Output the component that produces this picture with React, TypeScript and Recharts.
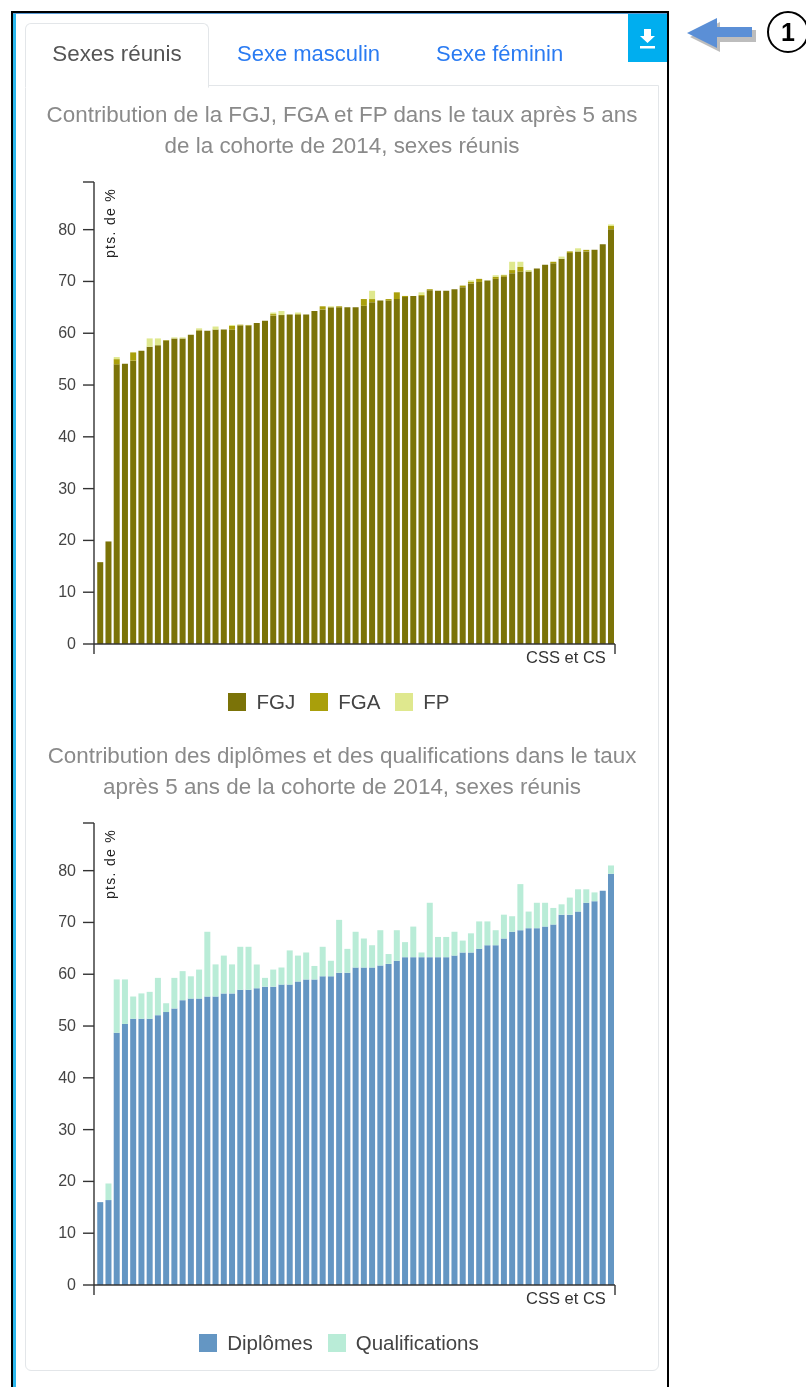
import React from 'react';
import { BarChart, Bar, XAxis, YAxis, Legend } from 'recharts';

const fgj = [15.8,19.8,54.0,54.1,54.7,56.6,57.4,57.7,58.6,59.0,59.0,59.7,60.5,60.5,60.7,60.7,60.7,61.5,61.5,62.0,62.4,63.4,63.5,63.6,63.6,63.6,64.3,64.6,65.0,65.0,65.0,65.0,65.3,66.0,66.3,66.3,66.6,67.0,67.2,67.2,68.3,68.2,68.2,68.5,68.9,69.6,69.9,70.2,70.5,70.9,71.6,71.9,71.9,72.5,73.2,73.5,74.4,75.5,75.8,75.8,76.1,77.2,80.1];
const fga = [0,0,1.0,0,1.6,0,0,0,0.1,0,0,0,0.2,0,0,0,0.7,0.15,0.1,0,0,0.3,0,0,0.1,0,0,0.6,0,0.2,0,0,1.3,0.6,0,0.3,1.3,0.2,0,0.2,0.2,0,0,0,0.3,0.3,0.6,0,0.4,0.3,0.6,0.9,0,0,0,0.3,0,0.3,0,0.3,0,0,0.6];
const fp = [0,0,0.4,0,0,0,1.6,1.3,0,0.2,0.2,0,0.25,0,0.6,0,0.2,0,0,0,0,0.3,0.8,0,0.3,0,0,0,0.2,0,0,0,0,1.6,0,0,0,0,0,0.5,0,0,0,0,0,0.3,0,0,0.3,0.1,1.6,1.0,0.3,0,0,0,0.4,0,0.6,0,0,0,0.3];
const diplomes = [16.0,16.4,48.7,50.4,51.4,51.4,51.4,52.1,52.7,53.4,55.0,55.3,55.3,55.7,55.7,56.3,56.3,57.0,57.0,57.3,57.6,57.6,58.0,58.0,58.6,59.0,59.0,59.6,59.6,60.3,60.3,61.3,61.3,61.3,61.7,62.0,62.6,63.3,63.3,63.3,63.3,63.3,63.3,63.6,64.2,64.2,64.9,65.6,65.6,66.9,68.2,68.5,68.9,68.9,69.2,69.6,71.5,71.5,72.1,73.8,74.1,76.1,79.4];
const qualifications = [0,3.2,10.3,8.6,4.3,4.9,5.2,7.2,1.7,5.9,5.6,4.3,5.6,12.5,6.2,7.3,5.6,8.3,8.3,4.6,1.7,3.3,3.3,6.6,5.0,5.2,2.6,5.7,3.0,10.2,4.6,6.9,5.6,4.3,6.8,1.9,5.9,2.9,5.9,0.9,10.5,3.9,3.9,4.6,2.3,3.7,5.3,4.6,2.9,4.6,3.0,8.9,3.2,4.9,4.6,3.2,2.0,3.3,4.3,2.6,1.7,0,1.6];
const yTicks = [0,10,20,30,40,50,60,70,80];
const yTop = 89.2;
const categories = fgj.map((_, i) => `CSS ${i + 1}`);

const dataTop = categories.map((cat, i) => ({ cat, FGJ: fgj[i], FGA: fga[i], FP: fp[i] }));
const dataBottom = categories.map((cat, i) => ({ cat, 'Diplômes': diplomes[i], Qualifications: qualifications[i] }));

const FONT = '"Liberation Sans", Arial, sans-serif';
const AXIS = '#333';
const PLOT_W = 521;
const PAD_LEFT = 2;
const halfBand = (PLOT_W - PAD_LEFT) / categories.length / 2;

function XTick(props: any) {
  const { x, y, index } = props;
  const top = y;
  if (index === 0) {
    const lx = x - halfBand - PAD_LEFT;
    return <line x1={lx} x2={lx} y1={top} y2={top + 10} stroke={AXIS} strokeWidth={1.4} />;
  }
  return (
    <g>
      <line x1={x + halfBand} x2={x + halfBand} y1={top} y2={top + 10} stroke={AXIS} strokeWidth={1.4} />
      <text x={x - 5} y={top + 19} textAnchor="end" fontSize={16.5} fontFamily={FONT} fill="#333">CSS et CS</text>
    </g>
  );
}

function YTick(props: any) {
  const { x, y, payload } = props;
  if (payload.value === yTop) {
    return (
      <text transform={`translate(${x + 34},${y + 76}) rotate(-90)`} fontSize={14} letterSpacing={1.3} fontFamily={FONT} fill="#222">pts. de %</text>
    );
  }
  return <text x={x - 5} y={y + 5} textAnchor="end" fontSize={16} fontFamily={FONT} fill="#444">{payload.value}</text>;
}

function LegendBox(props: any) {
  const items = props.payload || [];
  return (
    <div style={{ display: 'flex', justifyContent: 'center', alignItems: 'center', gap: 15, height: 24, paddingTop: 11, fontFamily: FONT, fontSize: 20.5, color: '#444' }}>
      {items.map((it: any) => (
        <div key={it.value} style={{ display: 'flex', alignItems: 'center', gap: 10 }}>
          <span style={{ width: 18, height: 18, background: it.color, display: 'inline-block' }} />
          <span>{it.value}</span>
        </div>
      ))}
    </div>
  );
}

function Chart({ data, keys, colors, top }: { data: any[]; keys: string[]; colors: string[]; top: number }) {
  return (
    <div style={{ position: 'absolute', left: 0, top }}>
      <BarChart width={678} height={555} data={data} barCategoryGap="15%"
        margin={{ top: 12, right: 63, bottom: 5, left: 44 }}>
        <XAxis dataKey="cat" ticks={[data[0].cat, data[data.length - 1].cat]} interval={0} height={30} padding={{ left: PAD_LEFT, right: 0 }}
          tick={<XTick />} tickLine={false} axisLine={{ stroke: AXIS, strokeWidth: 1.4 }} tickSize={0} tickMargin={0} />
        <YAxis width={50} domain={[0, yTop]} ticks={[...yTicks, yTop]} interval={0} tick={<YTick />} tickSize={11}
          tickLine={{ stroke: AXIS, strokeWidth: 1.4 }} axisLine={{ stroke: AXIS, strokeWidth: 1.4 }} />
        <Legend verticalAlign="bottom" height={46} itemSorter={null} wrapperStyle={{ left: 0, width: 678, bottom: 0 }} content={<LegendBox />} />
        {keys.map((k, i) => (
          <Bar key={k} dataKey={k} stackId="a" fill={colors[i]} isAnimationActive={false} />
        ))}
      </BarChart>
    </div>
  );
}

const abs = (o: React.CSSProperties): React.CSSProperties => ({ position: 'absolute', ...o });
const titleStyle: React.CSSProperties = { position: 'absolute', left: 25, width: 634, textAlign: 'center', color: '#8a8a8a', fontSize: 22.4, lineHeight: '31px', fontFamily: FONT };

export default function App() {
  return (
    <div style={{ position: 'absolute', left: 0, top: 0, width: 806, height: 1387, overflow: 'hidden', background: '#fff', fontFamily: FONT, filter: 'blur(0.45px)' }}>
      {/* frame */}
      <div style={abs({ left: 11, top: 11, width: 2, height: 1376, background: '#000' })} />
      <div style={abs({ left: 13, top: 13, width: 2.5, height: 1374, background: '#2db8ee' })} />
      <div style={abs({ left: 11, top: 11, width: 658, height: 2, background: '#000' })} />
      <div style={abs({ left: 13, top: 13, width: 654, height: 1, background: '#5b9bd5' })} />
      <div style={abs({ left: 667, top: 11, width: 2, height: 1376, background: '#000' })} />

      {/* card and tabs */}
      <div style={abs({ left: 25, top: 85, width: 632, height: 1284, border: '1px solid #e3e6e9', borderRadius: '0 0 6px 6px' })} />
      <div style={abs({ left: 25, top: 23, width: 182, height: 63, border: '1px solid #e3e6e9', borderBottom: '1px solid #fff', borderRadius: '6px 6px 0 0', background: '#fff' })} />
      <div style={abs({ left: 25, top: 42, width: 184, textAlign: 'center', fontSize: 22.4, lineHeight: '24px', color: '#555' })}>Sexes réunis</div>
      <div style={abs({ left: 237, top: 42, fontSize: 22, lineHeight: '24px', color: '#2a7bf2' })}>Sexe masculin</div>
      <div style={abs({ left: 436, top: 42, fontSize: 22, lineHeight: '24px', color: '#2a7bf2' })}>Sexe féminin</div>

      {/* download button */}
      <div style={abs({ left: 628, top: 14, width: 39, height: 48, background: '#00aeef' })} />
      <svg style={abs({ left: 628, top: 14 })} width={39} height={48}>
        <path d="M16 15h7v7h4l-7.500 7-7.500-7h4z M12 32h15v2.500H12z" fill="#fff" />
      </svg>

      {/* callout */}
      <svg style={abs({ left: 680, top: 0 })} width={126} height={70}>
        <path d="M10 37 L40 22 V30 H76 V42 H40 V52 Z" fill="#bdbdbd" />
        <path d="M7 33 L37 18 V27 H72 V37 H37 V48 Z" fill="#5b8fd6" />
        <circle cx={108} cy={32} r={20} fill="#fff" stroke="#000" strokeWidth={2} />
        <text x={108} y={41} textAnchor="middle" fontSize={25} fontWeight={700} fontFamily={FONT} fill="#000">1</text>
      </svg>

      {/* titles */}
      <div style={{ ...titleStyle, top: 99 }}>Contribution de la FGJ, FGA et FP dans le taux après 5 ans<br />de la cohorte de 2014, sexes réunis</div>
      <div style={{ ...titleStyle, top: 740 }}>Contribution des diplômes et des qualifications dans le taux<br />après 5 ans de la cohorte de 2014, sexes réunis</div>

      <Chart data={dataTop} keys={['FGJ', 'FGA', 'FP']} colors={['#7b7308', '#a99f0b', '#dfe88e']} top={170} />
      <Chart data={dataBottom} keys={['Diplômes', 'Qualifications']} colors={['#6496c3', '#b9ecd7']} top={811} />
    </div>
  );
}
